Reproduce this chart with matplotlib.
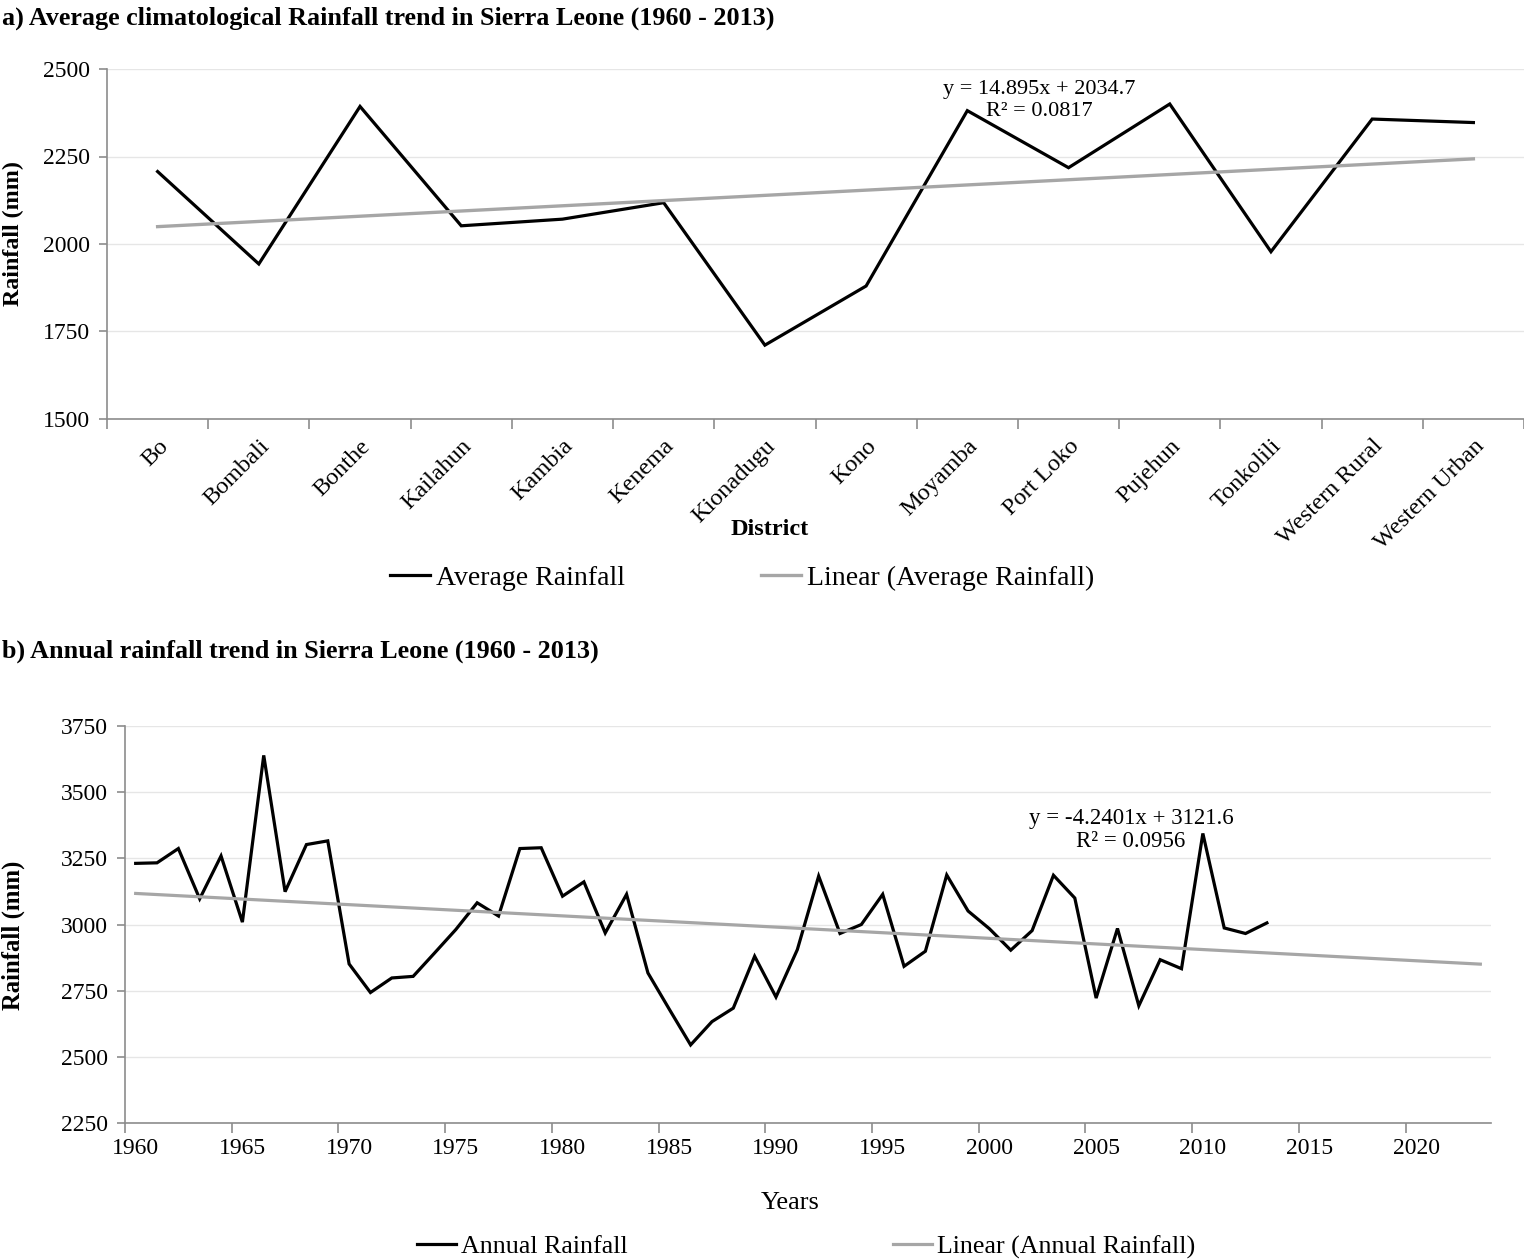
import numpy as np
import matplotlib
matplotlib.use("Agg")
import matplotlib.pyplot as plt
from matplotlib.ticker import FixedLocator

plt.rcParams["font.family"] = ["Liberation Serif", "DejaVu Serif"]

# a) district averages
districts = ["Bo", "Bombali", "Bonthe", "Kailahun", "Kambia", "Kenema", "Kionadugu",
             "Kono", "Moyamba", "Port Loko", "Pujehun", "Tonkolili", "Western Rural",
             "Western Urban"]
avg_rain = [2207, 1943, 2393, 2052, 2071, 2118, 1711,
            1880, 2381, 2218, 2400, 1978, 2357, 2347]
trend_a = (14.895, 2034.7)
r2_a = 0.0817

# b) annual totals
years = list(range(1960, 2014))
annual_rain = [3231, 3233, 3287, 3097, 3259, 3009, 3639, 3124, 3302, 3316,
               2851, 2743, 2798, 2804, 2892, 2981, 3082, 3032, 3287, 3290,
               3107, 3161, 2968, 3114, 2817, 2680, 2545, 2633, 2684, 2880,
               2726, 2905, 3183, 2966, 3000, 3114, 2842, 2899, 3187, 3051,
               2984, 2903, 2977, 3186, 3100, 2722, 2985, 2693, 2867, 2833,
               3344, 2987, 2966, 3006]
trend_b = (-4.2401, 3121.6)
r2_b = 0.0956
forecast = 10

BLACK = "black"
TREND = "#a6a6a6"
GRID = "#e6e6e6"
SPINE = "#8c8c8c"

fig = plt.figure(figsize=(15.24, 12.6), dpi=100)


def style_axes(ax):
    for s in ["top", "right"]:
        ax.spines[s].set_visible(False)
    for s in ["left", "bottom"]:
        ax.spines[s].set_color(SPINE)
        ax.spines[s].set_linewidth(1.2)
    ax.grid(axis="y", color=GRID, linewidth=1.0)
    ax.set_axisbelow(True)
    ax.tick_params(axis="y", which="major", direction="out", length=6, width=1.2,
                   color=SPINE, labelsize=17, pad=6)
    ax.tick_params(axis="x", which="major", length=0, labelsize=17)
    ax.tick_params(axis="x", which="minor", direction="out", length=7, width=1.2,
                   color=SPINE)


# ---- panel a
ax1 = fig.add_axes([107 / 1524, 1 - 419 / 1260, 1417 / 1524, 350 / 1260])
xa = np.arange(len(districts))
line_a, = ax1.plot(xa, avg_rain, color=BLACK, lw=2.3, solid_joinstyle="miter")
ta = trend_a[0] * (xa + 1) + trend_a[1]
tr_a, = ax1.plot(xa, ta, color=TREND, lw=2.4)
ax1.set_xlim(-0.5, len(districts) - 0.5)
ax1.set_ylim(1500, 2500)
ax1.set_yticks([1500, 1750, 2000, 2250, 2500])
style_axes(ax1)
ax1.set_xticks(xa)
ax1.set_xticklabels(districts, rotation=45, ha="right", va="top",
                    rotation_mode="anchor")
ax1.tick_params(axis="x", which="major", pad=12, labelsize=17.5)
ax1.xaxis.set_minor_locator(FixedLocator(np.arange(-0.5, len(districts), 1.0)))
ax1.set_xlabel("District", fontsize=17.5, fontweight="bold", va="center")
ax1.xaxis.set_label_coords(0.468, -(530 - 419) / 350)
ax1.text(0.658, 0.911, f"y = {trend_a[0]}x + {trend_a[1]}\nR² = {r2_a}",
         transform=ax1.transAxes, ha="center", va="center", multialignment="center",
         fontsize=16, linespacing=1.2)

fig.text(0.001, 1 - 18 / 1260, "a) Average climatological Rainfall trend in Sierra Leone (1960 - 2013)",
         fontsize=18.8, fontweight="bold", va="center", ha="left")
fig.text(13 / 1524, 1 - 234 / 1260, "Rainfall (mm)", rotation=90, fontsize=17.3,
         fontweight="bold", va="center", ha="center")
fig.legend([line_a, tr_a], ["Average Rainfall", "Linear (Average Rainfall)"],
           loc="center", bbox_to_anchor=(742 / 1524, 1 - 578 / 1260), ncol=2,
           frameon=False, fontsize=20, handlelength=1.45, handletextpad=0.2,
           columnspacing=4.9)

# ---- panel b
ax2 = fig.add_axes([125 / 1524, 1 - 1123 / 1260, 1366 / 1524, 397 / 1260])
line_b, = ax2.plot(years, annual_rain, color=BLACK, lw=2.3, solid_joinstyle="miter")
yb = np.arange(years[0], years[-1] + forecast + 1)
tb = trend_b[0] * (yb - years[0] + 1) + trend_b[1]
tr_b, = ax2.plot(yb, tb, color=TREND, lw=2.3)
ax2.set_xlim(years[0] - 0.5, yb[-1] + 0.5)
ax2.set_ylim(2250, 3750)
ax2.set_yticks(np.arange(2250, 3751, 250))
style_axes(ax2)
ax2.set_xticks(np.arange(1960, 2021, 5))
ax2.xaxis.set_minor_locator(FixedLocator(np.arange(1959.5, 2024, 5)))
ax2.tick_params(axis="x", which="major", pad=11)
ax2.set_xlabel("Years", fontsize=19, va="center")
ax2.xaxis.set_label_coords((790 - 125) / 1366, -(1203 - 1123) / 397)
ax2.text(0.7365, 0.738, f"y = {trend_b[0]}x + {trend_b[1]}\nR² = {r2_b}",
         transform=ax2.transAxes, ha="center", va="center", multialignment="center",
         fontsize=16.5, linespacing=1.15)

fig.text(0.001, 1 - 651 / 1260, "b) Annual rainfall trend in Sierra Leone (1960 - 2013)",
         fontsize=18.8, fontweight="bold", va="center", ha="left")
fig.text(13 / 1524, 1 - 935 / 1260, "Rainfall (mm)", rotation=90, fontsize=17.8,
         fontweight="bold", va="center", ha="center")
fig.legend([line_b, tr_b], ["Annual Rainfall", "Linear (Annual Rainfall)"],
           loc="center", bbox_to_anchor=(806 / 1524, 1 - 1247 / 1260), ncol=2,
           frameon=False, fontsize=18.7, handlelength=1.5, handletextpad=0.2,
           columnspacing=10.2)

fig.savefig("out.png", dpi=100)
